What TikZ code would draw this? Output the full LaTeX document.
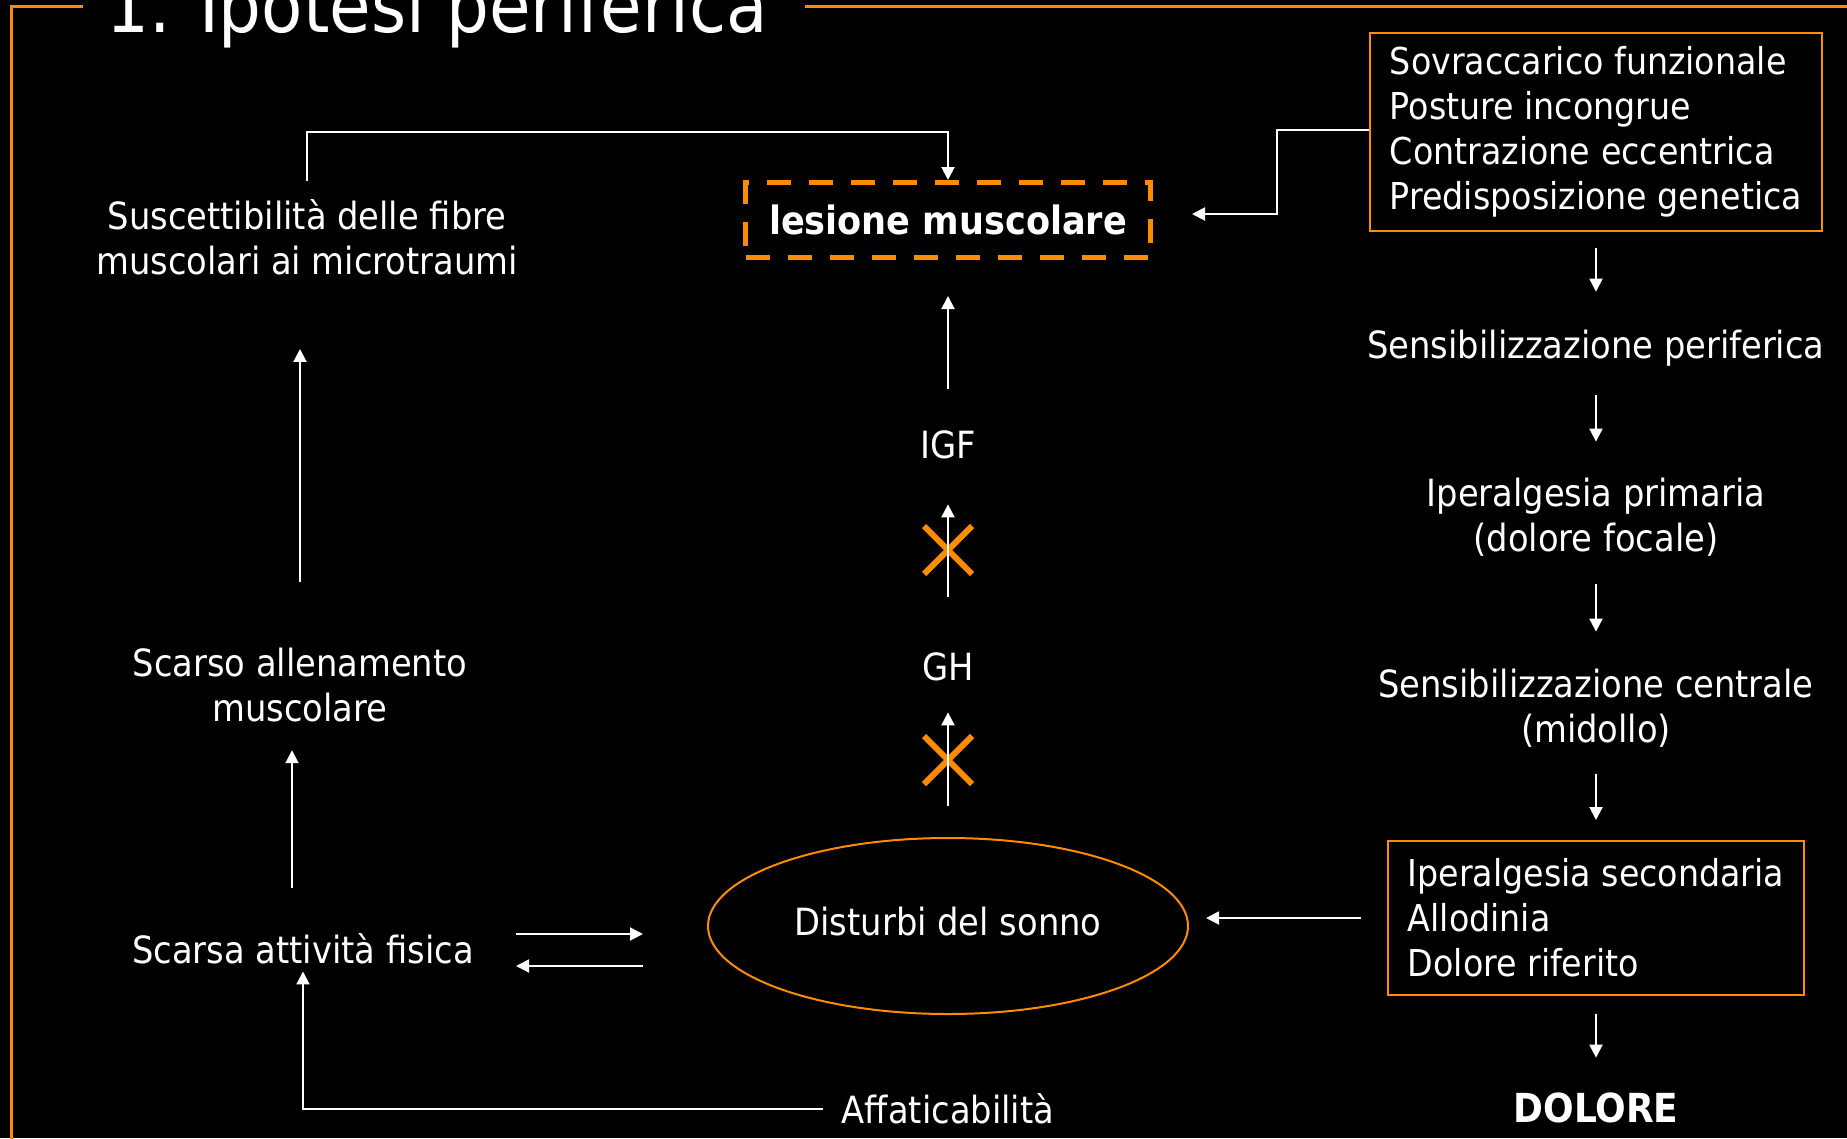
\documentclass[tikz,border=0pt]{standalone}
\usepackage{xcolor}
\usepackage{fontspec}
\IfFontExistsTF{DejaVu Sans Condensed}{\setmainfont{DejaVu Sans Condensed}}{\setmainfont{DejaVu Sans}}
\usepackage{tikz}
\usetikzlibrary{shapes.geometric, shapes.misc, arrows, arrows.meta, positioning, calc}

\definecolor{slideorange}{HTML}{FF8C00}

\begin{document}
\begin{tikzpicture}[x=1pt, y=-1pt, every node/.style={text=white, font=\fontsize{37.5}{45}\selectfont}]
\tikzstyle{txt} = [align=center, inner sep=2pt]
\tikzstyle{listbox} = [rectangle, draw=slideorange, line width=2pt, align=left, inner xsep=20pt, inner ysep=0pt, font=\fontsize{37}{45}\selectfont]
\tikzstyle{lesion} = [rectangle, draw=slideorange, line width=5pt, dash pattern=on 24pt off 18pt, minimum width=405pt, minimum height=75pt, font=\fontsize{39}{45}\selectfont\bfseries]
\tikzstyle{link} = [draw=white, line width=2pt, -{Triangle[length=13pt,width=13pt]}]
\tikzstyle{blocked} = [cross out, draw=slideorange, line width=6pt, minimum size=42pt, inner sep=0pt]

\fill[black] (0,0) rectangle (1847,1138);
\useasboundingbox (0,0) rectangle (1847,1138);

% title and frame
\node[anchor=base west, inner sep=0pt, font=\fontsize{75}{80}\selectfont] (title) at (106,32) {1. Ipotesi periferica};
\draw[slideorange, line width=3pt] (83,6) -- (11,6) -- (11,1150);
\draw[slideorange, line width=3pt] (805,6) -- (1860,6);

% centre
\node[lesion] (lesione) at (948,220) {lesione muscolare};
\node[txt] (igf) at (948,445) {IGF};
\node[txt] (gh) at (948,667) {GH};
\node[ellipse, draw=slideorange, line width=2pt, minimum width=480pt, minimum height=176pt, text depth=10pt] (sonno) at (948,926) {Disturbi del sonno};
\node[txt] (fatica) at (948,1109) {Affaticabilità};
\node[blocked] (stop1) at (948,760) {};
\node[blocked] (stop2) at (948,550) {};

% left
\node[txt] (sus) at (307,237) {Suscettibilità delle fibre\\muscolari ai microtraumi};
\node[txt] (allen) at (300,685) {Scarso allenamento\\muscolare};
\node[txt] (fisica) at (303,949) {Scarsa attività fisica};

% right
\node[listbox, minimum width=451pt, minimum height=198pt] (cause) at (1596,132) {Sovraccarico funzionale\\Posture incongrue\\Contrazione eccentrica\\Predisposizione genetica};
\node[txt] (sensper) at (1596,348) {Sensibilizzazione periferica};
\node[txt] (iperprim) at (1596,517) {Iperalgesia primaria\\(dolore focale)};
\node[txt] (senscent) at (1596,708) {Sensibilizzazione centrale\\(midollo)};
\node[listbox, minimum width=412pt, minimum height=154pt] (secbox) at (1596,918) {Iperalgesia secondaria\\Allodinia\\Dolore riferito};
\node[txt, font=\fontsize{40}{45}\selectfont\bfseries] (dolore) at (1596,1108) {DOLORE};

\draw[link] ([yshift=2pt]cause.west) -- ++(-92,0) |- ([xshift=39pt,yshift=6pt]lesione.east);
\draw[link] ([yshift=16pt]sus.north) |- ([yshift=48pt]lesione.north) -- (lesione.north);

\draw[link, shorten <=16pt, shorten >=36pt] (cause) -- (sensper);
\draw[link, shorten <=27pt, shorten >=34pt] (sensper) -- (iperprim);
\draw[link, shorten <=26pt, shorten >=35pt] (iperprim) -- (senscent);
\draw[link, shorten <=25pt, shorten >=20pt] (senscent) -- (secbox);
\draw[link, shorten <=18pt, shorten >=33pt] (secbox) -- (dolore);
\draw[link, shorten <=26pt, shorten >=17pt] (secbox.west) -- (secbox.west -| sonno.east);

\draw[link, shorten <=31pt, shorten >=29pt] (sonno) -- (gh);
\draw[link, shorten <=54pt, shorten >=43pt] (gh) -- (igf);
\draw[link, shorten <=40pt, shorten >=36pt] (igf) -- (lesione);

\draw[link, shorten <=64pt, shorten >=72pt] (allen.north) -- (allen.north |- sus.south);
\draw[link, shorten <=44pt, shorten >=26pt] ([xshift=-11pt]fisica.north) -- ([xshift=-11pt]fisica.north |- allen.south);
\draw[link] ($(fisica)+(213,-15)$) -- ($(fisica -| sonno.west)+(-64,-15)$);
\draw[link] ($(fisica -| sonno.west)+(-64,17)$) -- ($(fisica)+(213,17)$);
\draw[link, shorten <=17pt, shorten >=5pt] (fatica.west) -| (fisica.south);

\end{tikzpicture}
\end{document}
